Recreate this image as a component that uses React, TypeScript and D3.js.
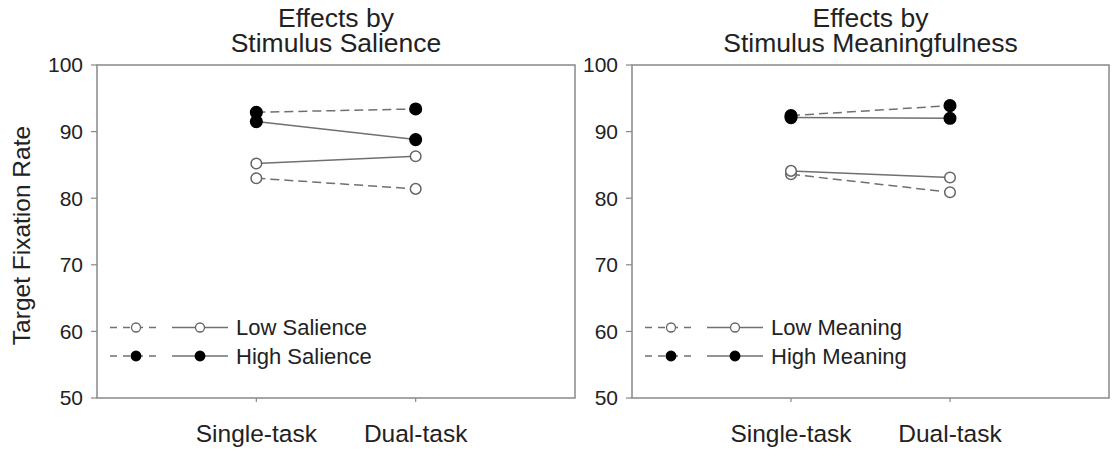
import React from "react";
import * as d3 from "d3";

const conditions = ["Single-task", "Dual-task"];
const yTicks = [50, 60, 70, 80, 90, 100];

// Left panel: Stimulus Salience
const salLowDashed = [83.0, 81.4];
const salLowSolid = [85.2, 86.3];
const salHighDashed = [92.9, 93.4];
const salHighSolid = [91.5, 88.8];

// Right panel: Stimulus Meaningfulness
const meanLowDashed = [83.6, 80.9];
const meanLowSolid = [84.1, 83.1];
const meanHighDashed = [92.4, 93.9];
const meanHighSolid = [92.1, 92.0];

const W = 1114;
const H = 449;
const TOP = 65;
const BOTTOM = 398;
const FONT = "Arial, Liberation Sans, Helvetica, sans-serif";
const TEXT = "#222";
const AXIS = "#888";
const LINE = "#707070";

type Series = { values: number[]; filled: boolean; dashed: boolean };

function Panel({
  x0,
  x1,
  title1,
  title2,
  series,
  legendLow,
  legendHigh,
  legendX,
}: {
  x0: number;
  x1: number;
  title1: string;
  title2: string;
  series: Series[];
  legendLow: string;
  legendHigh: string;
  legendX: number;
}) {
  const x = d3.scaleLinear().domain([0, 3]).range([x0, x1]);
  const y = d3.scaleLinear().domain([50, 100]).range([BOTTOM, TOP]);
  const line = d3
    .line<number>()
    .x((_, i) => x(i + 1))
    .y((v) => y(v));
  const cx = (x0 + x1) / 2;
  const legendRows = [
    { label: legendLow, filled: false, y: 327.5 },
    { label: legendHigh, filled: true, y: 356 },
  ];
  return (
    <g>
      <text x={cx} y={27} textAnchor="middle" fontSize={26.5} fill={TEXT} fontFamily={FONT}>
        {title1}
      </text>
      <text x={cx} y={52} textAnchor="middle" fontSize={26.5} fill={TEXT} fontFamily={FONT}>
        {title2}
      </text>
      <rect x={x0} y={TOP} width={x1 - x0} height={BOTTOM - TOP} fill="none" stroke={AXIS} strokeWidth={1.5} />
      {yTicks.map((t) => (
        <g key={t}>
          <line x1={x0 - 6} x2={x0} y1={y(t)} y2={y(t)} stroke={AXIS} strokeWidth={1.2} />
          <text
            x={x0 - 14}
            y={y(t)}
            dy="0.35em"
            textAnchor="end"
            fontSize={21}
            fill={TEXT}
            fontFamily={FONT}
          >
            {t}
          </text>
        </g>
      ))}
      {conditions.map((c, i) => (
        <g key={c}>
          <line x1={x(i + 1)} x2={x(i + 1)} y1={BOTTOM} y2={BOTTOM + 4} stroke={AXIS} strokeWidth={1.2} />
          <text x={x(i + 1)} y={442} textAnchor="middle" fontSize={24.5} fill={TEXT} fontFamily={FONT}>
            {c}
          </text>
        </g>
      ))}
      {series.map((s, k) => (
        <path
          key={"l" + k}
          d={line(s.values) || ""}
          fill="none"
          stroke={LINE}
          strokeWidth={1.5}
          strokeDasharray={s.dashed ? "9,5" : undefined}
        />
      ))}
      {series.map((s, k) =>
        s.values.map((v, i) => (
          <circle
            key={"c" + k + "-" + i}
            cx={x(i + 1)}
            cy={y(v)}
            r={s.filled ? 5.8 : 5.3}
            fill={s.filled ? "#000" : "#fff"}
            stroke={s.filled ? "#000" : "#666"}
            strokeWidth={1.5}
          />
        ))
      )}
      {legendRows.map((r) => (
        <g key={r.label}>
          <line
            x1={legendX}
            x2={legendX + 52}
            y1={r.y}
            y2={r.y}
            stroke={LINE}
            strokeWidth={1.3}
            strokeDasharray="7,6"
          />
          <line x1={legendX + 62} x2={legendX + 118} y1={r.y} y2={r.y} stroke={LINE} strokeWidth={1.3} />
          {[legendX + 26, legendX + 90].map((mx) => (
            <circle
              key={mx}
              cx={mx}
              cy={r.y}
              r={r.filled ? 4.8 : 4.5}
              fill={r.filled ? "#000" : "#fff"}
              stroke={r.filled ? "#000" : "#666"}
              strokeWidth={1.3}
            />
          ))}
          <text x={legendX + 126} y={r.y} dy="0.36em" fontSize={22} fill={TEXT} fontFamily={FONT}>
            {r.label}
          </text>
        </g>
      ))}
    </g>
  );
}

export default function App() {
  return (
    <svg width={W} height={H} style={{ display: "block", position: "absolute", left: 0, top: 0 }}>
      <rect width={W} height={H} fill="#fff" />
      <text
        transform={`translate(30,${(TOP + BOTTOM) / 2 + 4}) rotate(-90)`}
        textAnchor="middle"
        fontSize={24.5}
        fill={TEXT}
        fontFamily={FONT}
      >
        Target Fixation Rate
      </text>
      <Panel
        x0={97}
        x1={575}
        title1="Effects by"
        title2="Stimulus Salience"
        legendLow="Low Salience"
        legendHigh="High Salience"
        legendX={110}
        series={[
          { values: salLowDashed, filled: false, dashed: true },
          { values: salLowSolid, filled: false, dashed: false },
          { values: salHighDashed, filled: true, dashed: true },
          { values: salHighSolid, filled: true, dashed: false },
        ]}
      />
      <Panel
        x0={632}
        x1={1109}
        title1="Effects by"
        title2="Stimulus Meaningfulness"
        legendLow="Low Meaning"
        legendHigh="High Meaning"
        legendX={645}
        series={[
          { values: meanLowDashed, filled: false, dashed: true },
          { values: meanLowSolid, filled: false, dashed: false },
          { values: meanHighDashed, filled: true, dashed: true },
          { values: meanHighSolid, filled: true, dashed: false },
        ]}
      />
    </svg>
  );
}
